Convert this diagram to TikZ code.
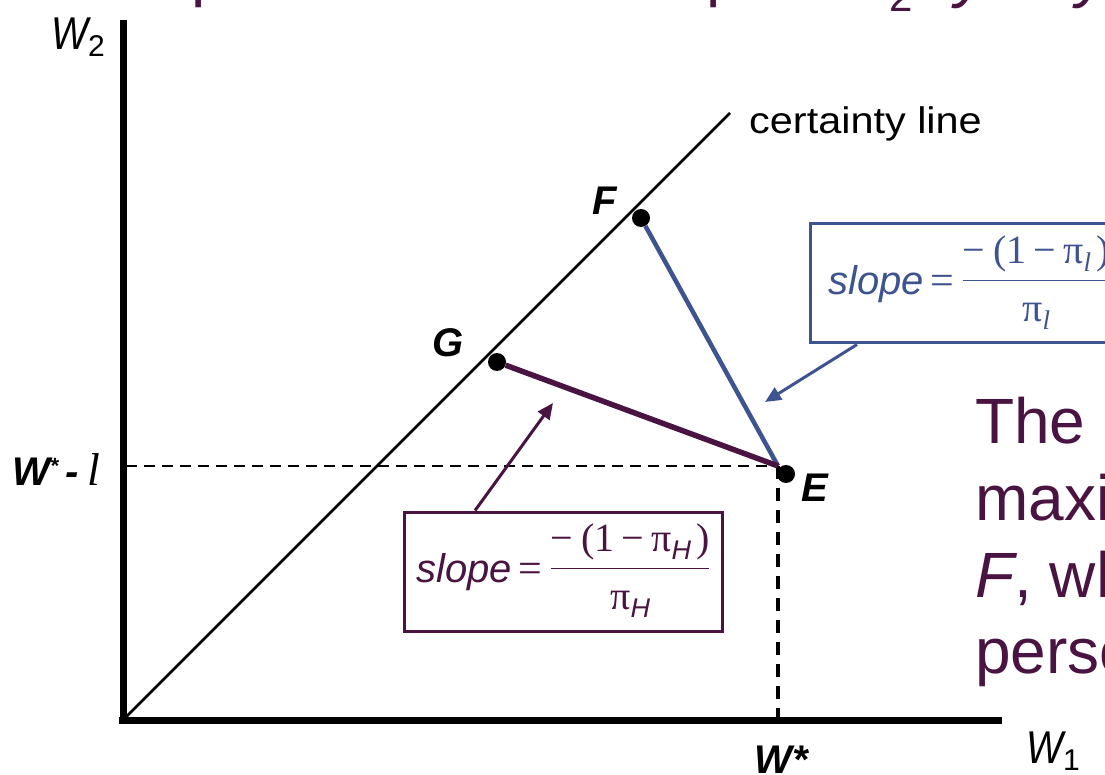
\documentclass[tikz,border=0pt]{standalone}
\usepackage{fontspec}
\usepackage{graphicx}
\usepackage{array}
\setmainfont{Liberation Sans}
\newfontfamily\serifit{Liberation Serif}
\usetikzlibrary{arrows.meta,calc}
\definecolor{tpurple}{RGB}{74,20,66}
\definecolor{tblue}{RGB}{62,84,145}
\newcommand{\slopefrac}[1]{{\itshape slope}\hspace{6pt}{\serifit\fontsize{42}{46}\selectfont=}\hspace{9pt}%
  \raisebox{5pt}{\setlength{\arrayrulewidth}{1.6pt}\begin{tabular}[c]{@{}c@{}}%
  {\serifit\textminus\hspace{8pt}(1\hspace{7pt}\textminus\hspace{7pt}π}#1{\serifit\hspace{5pt})}\\[3pt]\hline
  \rule{0pt}{40pt}{\serifit π}#1\end{tabular}}}
\newcommand{\subH}{\raisebox{-8pt}{\fontsize{27}{30}\selectfont\itshape H}}
\newcommand{\subl}{\raisebox{-8pt}{\serifit\itshape\fontsize{27}{30}\selectfont l}}
\begin{document}
\begin{tikzpicture}[x=1pt,y=-1pt,
  axisline/.style={line width=7pt},
  dotnode/.style={circle,fill=black,inner sep=0pt,minimum size=18pt},
  ptlabel/.style={font=\fontsize{40}{44}\selectfont\bfseries\itshape,inner sep=0pt},
  axlabel/.style={font=\fontsize{46}{50}\selectfont\itshape,inner sep=0pt},
  slopebox/.style={draw,line width=3pt,minimum width=318pt,minimum height=119pt,inner sep=0pt,font=\fontsize{40}{44}\selectfont},
  bigtext/.style={font=\fontsize{64}{70}\selectfont,text=tpurple,inner sep=0pt,anchor=base west},
  callout/.style={line width=3pt,-{Triangle[length=16pt,width=14pt]}},
  dashh/.style={line width=2pt,dash pattern=on 11pt off 7pt},
  dashv/.style={line width=3.5pt,dash pattern=on 13pt off 9pt}
]
\clip (0,0) rectangle (1105,775);
\fill[white] (0,0) rectangle (1105,775);

% title fragments (cut off at the top)
\node[bigtext] (t1) at (191,-5) {p};
\node[bigtext] (t2) at (706,-5) {p};
\node[font=\fontsize{42}{46}\selectfont,text=tpurple,inner sep=0pt,anchor=base west] (t3) at (889,12) {2};
\node[bigtext,font=\fontsize{64}{70}\selectfont\itshape] (t4) at (955,-4) {y};
\node[bigtext,font=\fontsize{64}{70}\selectfont\itshape] (t5) at (1076,-4) {y};

% axes
\coordinate (O) at (123,720);
\coordinate (Ytop) at (123,20);
\coordinate (Xend) at (1002,720);
\draw[axisline] (Ytop) -- (123,723);
\draw[axisline] (119,720) -- (Xend);
\node[axlabel,anchor=base west] (W2) at (51,50) {\scalebox{0.85}[1]{W}\raisebox{-7pt}{\fontsize{30}{32}\selectfont\upshape 2}};
\node[axlabel,anchor=base west] (W1) at (1026,763) {\scalebox{0.85}[1]{W}\raisebox{-7pt}{\fontsize{30}{32}\selectfont\upshape 1}};

% certainty line
\coordinate (CL) at (730,113);
\draw[line width=2.5pt] (O) -- (CL);
\node[font=\fontsize{37}{40}\selectfont,anchor=base west,inner sep=0pt] (cert) at (749,134) {\scalebox{1.12}[1]{certainty line}};

% dashed guides
\coordinate (Ecorner) at (778,466);
\coordinate (Yl) at (126,466);
\coordinate (Xw) at (778,717);
\draw[dashh] (Yl) -- (Ecorner);
\draw[dashv] (Ecorner) -- (Xw);

% points
\node[dotnode] (F) at (641,218) {};
\node[dotnode] (G) at (497,362) {};
\node[dotnode] (E) at (786,474) {};
\node[ptlabel] (Flab) at (605,201) {F};
\node[ptlabel] (Glab) at (448,343) {G};
\node[ptlabel] (Elab) at (815,488) {E};
\node[ptlabel,anchor=base west] (Wl) at (12,485) {W\raisebox{12pt}{\fontsize{22}{24}\selectfont *}\hspace{7pt}-\hspace{9pt}{\serifit\mdseries\itshape\fontsize{46}{50}\selectfont l}};
\node[ptlabel,anchor=north] (Ws) at (781,746) {W*};

% budget lines
\draw[tblue,line width=4.5pt] (F) -- (Ecorner);
\draw[tpurple,line width=5.5pt] (G) -- (Ecorner);

% slope boxes
\node[slopebox,draw=tblue,text=tblue] (bbox) at (969,283.5) {\slopefrac{\subl}};
\node[slopebox,draw=tpurple,text=tpurple] (pbox) at (563,571.5) {\slopefrac{\subH}};

\coordinate (btip) at (765,402);
\coordinate (ptip) at (553,403);
\draw[callout,tblue] ($(bbox.south west)!0.151!(bbox.south east)$) -- (btip);
\draw[callout,tpurple] ($(pbox.north west)!0.226!(pbox.north east)$) -- (ptip);

% right-hand text (cut off)
\node[bigtext] (r1) at (975,443) {The};
\node[bigtext] (r2) at (975,520) {maxi};
\node[bigtext] (r3) at (975,597) {\textit{F}, wh};
\node[bigtext] (r4) at (975,673) {perso};
\end{tikzpicture}
\end{document}
